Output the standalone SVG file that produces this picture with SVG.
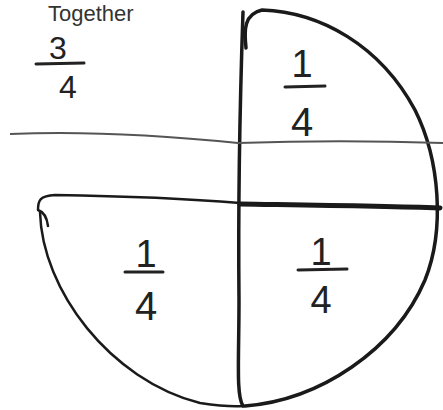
<svg xmlns="http://www.w3.org/2000/svg" width="443" height="410" viewBox="0 0 443 410">
<style>
.ink{fill:none;stroke:#1a1a1a;stroke-linecap:round;stroke-linejoin:round}
.d{font-family:"Liberation Sans",Arial,sans-serif;fill:#222;text-anchor:middle}
.bar{stroke:#222;stroke-width:3;stroke-linecap:round}
</style>
<rect width="443" height="410" fill="#fff"/>
<text x="48" y="21" font-size="22" font-family="Liberation Sans, Arial, sans-serif" fill="#333">Together</text>
<g id="circle">
<path class="ink" stroke-width="3.5" d="M246,48 C244,30 244,14 262,10 C320,12 380,45 415,110 C440,160 445,230 425,280 C395,350 320,400 245,406"/>
<path class="ink" stroke-width="3.5" d="M243,12 C240,100 238,200 239,300 C239,360 236,395 243,406"/>
<path class="ink" stroke-width="2.5" d="M48,226 C47,218 44,212 38,210 C38,200 40,196 55,195 C120,196 180,198 240,203"/>
<path class="ink" stroke-width="2.5" d="M40,212 C42,290 110,380 200,403 C220,406 232,407 243,406"/>
<path class="ink" stroke-width="5" d="M240,204 C300,205 380,206 440,208"/>
<path fill="none" stroke="#555" stroke-width="2" d="M10,134 C80,131 160,135 238,143 C300,141 380,141 443,143"/>
</g>
<g id="threequarters">
<text class="d" x="58" y="59" font-size="32">3</text>
<line class="bar" x1="36" y1="64" x2="84" y2="63"/>
<text class="d" x="68" y="98" font-size="32">4</text>
</g>
<g id="q1">
<text class="d" x="302" y="77" font-size="38">1</text>
<line class="bar" x1="285" y1="87" x2="325" y2="86"/>
<text class="d" x="302" y="136" font-size="40">4</text>
</g>
<g id="q2">
<text class="d" x="146" y="267" font-size="38">1</text>
<line class="bar" x1="125" y1="272" x2="163" y2="272"/>
<text class="d" x="146" y="320" font-size="40">4</text>
</g>
<g id="q3">
<text class="d" x="321" y="265" font-size="38">1</text>
<line class="bar" x1="298" y1="270" x2="347" y2="269"/>
<text class="d" x="321" y="313" font-size="38">4</text>
</g>
</svg>
